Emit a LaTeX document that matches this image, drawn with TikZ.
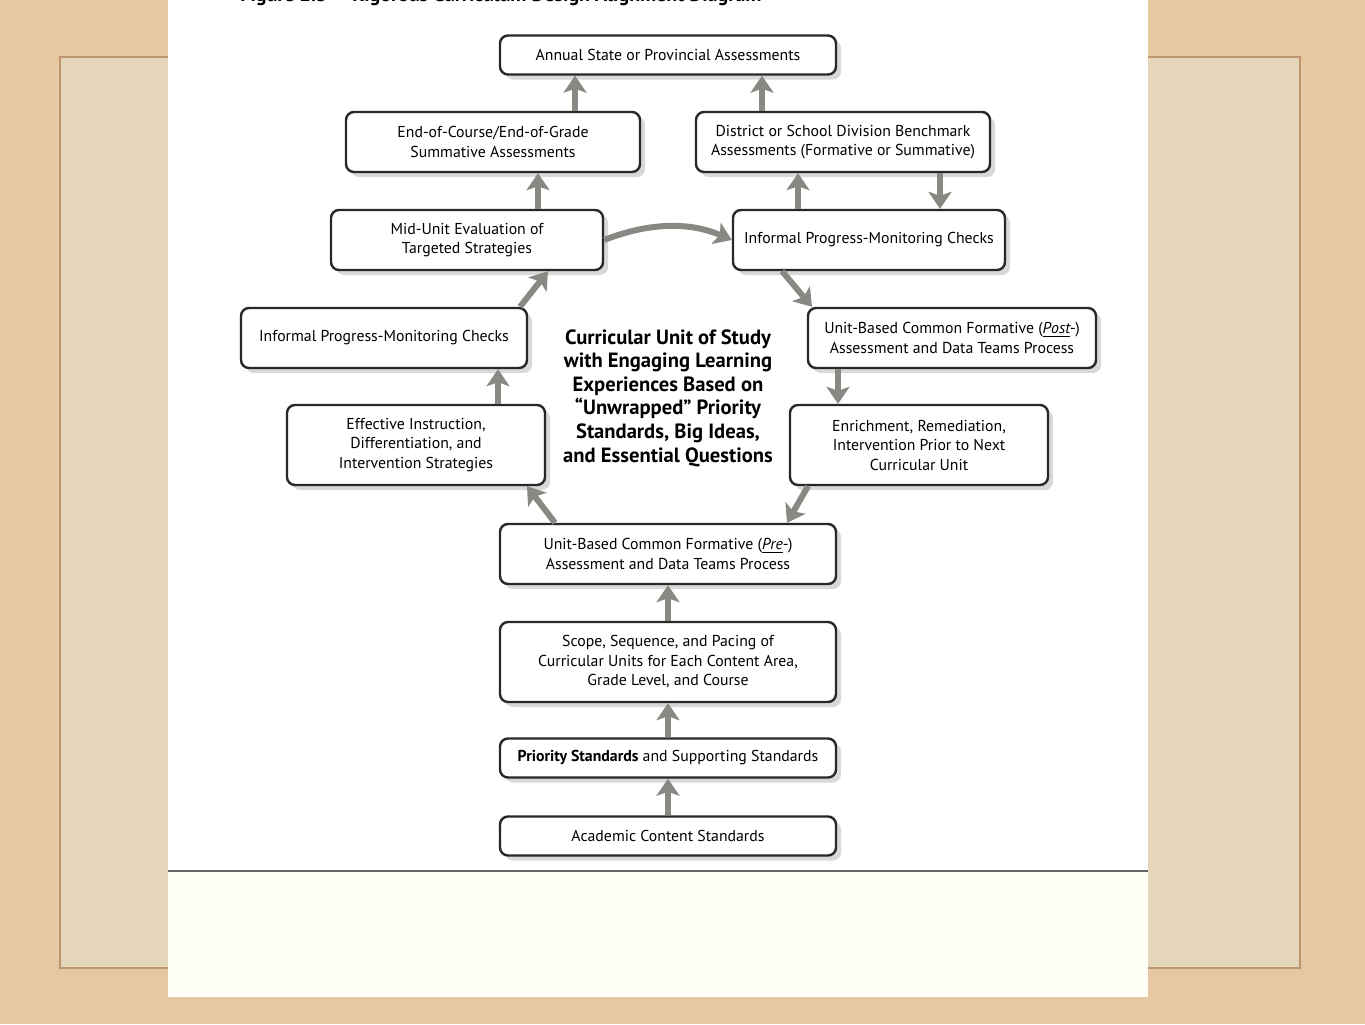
\documentclass[tikz,border=0pt]{standalone}
\usepackage{fontspec}
\setmainfont{PT Sans}
\usetikzlibrary{arrows.meta,shadows,calc}

\definecolor{deskbeige}{RGB}{230,201,162}
\definecolor{cardbeige}{RGB}{228,213,187}
\definecolor{cardedge}{RGB}{190,150,110}
\definecolor{arrowgray}{RGB}{135,137,130}
\definecolor{boxline}{RGB}{40,40,40}

\tikzset{
  stage/.style={draw=boxline, line width=1.2pt, rounded corners=4pt, fill=white,
    align=center, inner sep=0pt, font=\fontsize{7.9}{9.75}\selectfont,
    drop shadow={shadow xshift=2.5pt, shadow yshift=-2.5pt, opacity=0.3, fill=gray}},
  flow/.style={draw=arrowgray, line width=3pt,
    -{Stealth[length=8.5pt,width=11.5pt,inset=2pt]}}
}

\begin{document}
\begin{tikzpicture}[x=0.5pt,y=-0.5pt]
\useasboundingbox (0,0) rectangle (1365,1024);

% paper background
\fill[deskbeige] (0,0) rectangle (1365,1024);
\draw[cardedge, line width=1pt, fill=cardbeige] (60,57) rectangle (1300,968);
\fill[white] (168,0) rectangle (1148,997);
\fill[white!97!yellow] (168,872) rectangle (1148,997);
\draw[black!60, line width=0.8pt] (168,871) -- (1148,871);

% title, cut by the top edge
\begin{scope}
\clip (168,0) rectangle (1148,20);
\node[anchor=base west, inner sep=0pt, font=\fontsize{10}{12}\selectfont\bfseries] (title) at (240,1) {Figure 2.3 \quad Rigorous Curriculum Design Alignment Diagram};
\end{scope}

% boxes
\node[stage, minimum width=168pt, minimum height=19.5pt] (annual) at (668,55) {Annual State or Provincial Assessments};
\node[stage, minimum width=147pt, minimum height=30pt] (eoc) at (493,142) {End-of-Course/End-of-Grade\\Summative Assessments};
\node[stage, minimum width=147pt, minimum height=30pt] (district) at (843,142) {District or School Division Benchmark\\Assessments (Formative or Summative)};
\node[stage, minimum width=136pt, minimum height=30pt] (mid) at (467,240) {Mid-Unit Evaluation of\\Targeted Strategies};
\node[stage, minimum width=136pt, minimum height=30pt] (infoR) at (869,240) {Informal Progress-Monitoring Checks};
\node[stage, minimum width=143pt, minimum height=30pt] (infoL) at (384,338) {Informal Progress-Monitoring Checks};
\node[stage, minimum width=144pt, minimum height=30pt] (post) at (952,338) {Unit-Based Common Formative (\underline{\itshape Post}-)\\Assessment and Data Teams Process};
\node[stage, minimum width=129pt, minimum height=40pt] (effective) at (416,445) {Effective Instruction,\\Differentiation, and\\Intervention Strategies};
\node[stage, minimum width=129pt, minimum height=40pt] (enrich) at (919,445) {Enrichment, Remediation,\\Intervention Prior to Next\\Curricular Unit};
\node[stage, minimum width=168pt, minimum height=30pt] (pre) at (668,554) {Unit-Based Common Formative (\underline{\itshape Pre}-)\\Assessment and Data Teams Process};
\node[stage, minimum width=168pt, minimum height=40pt] (scope) at (668,662) {Scope, Sequence, and Pacing of\\Curricular Units for Each Content Area,\\Grade Level, and Course};
\node[stage, minimum width=168pt, minimum height=19.5pt] (priority) at (668,758) {\textbf{Priority Standards} and Supporting Standards};
\node[stage, minimum width=168pt, minimum height=19.5pt] (academic) at (668,836) {Academic Content Standards};

% centre of the cycle
\node[align=center, font=\fontsize{10.3}{11.8}\selectfont\bfseries] (unit) at (668,398) {Curricular Unit of Study\\with Engaging Learning\\Experiences Based on\\``Unwrapped'' Priority\\Standards, Big Ideas,\\and Essential Questions};

% arrows up the middle
\draw[flow] (academic.north) -- (priority.south);
\draw[flow] (priority.north) -- (scope.south);
\draw[flow] (scope.north) -- (pre.south);

% left side of the cycle
\draw[flow] ($(pre.north)+(-113,0)$) -- ($(effective.south)+(111,0)$);
\draw[flow] ($(effective.north)+(82,0)$) -- ($(infoL.south)+(114,0)$);
\draw[flow] ($(infoL.north)+(136,0)$) -- ($(mid.south)+(81,0)$);
\draw[flow] ($(mid.north)+(71,0)$) -- ($(eoc.south)+(45,0)$);
\draw[flow] ($(eoc.north)+(82,0)$) -- ($(annual.south)+(-93,0)$);

% across the top
\draw[flow] (mid.east) .. controls (650,222) and (690,222) .. (infoR.west);

% right side of the cycle
\draw[flow] ($(infoR.north)+(-71,0)$) -- ($(district.south)+(-45,0)$);
\draw[flow] ($(district.south)+(97,0)$) -- ($(infoR.north)+(71,0)$);
\draw[flow] ($(district.north)+(-81,0)$) -- ($(annual.south)+(94,0)$);
\draw[flow] ($(infoR.south)+(-87,0)$) -- ($(post.north)+(-140,0)$);
\draw[flow] ($(post.south)+(-114,0)$) -- ($(enrich.north)+(-81,0)$);
\draw[flow] ($(enrich.south)+(-111,0)$) -- ($(pre.north)+(119,0)$);

\end{tikzpicture}
\end{document}
